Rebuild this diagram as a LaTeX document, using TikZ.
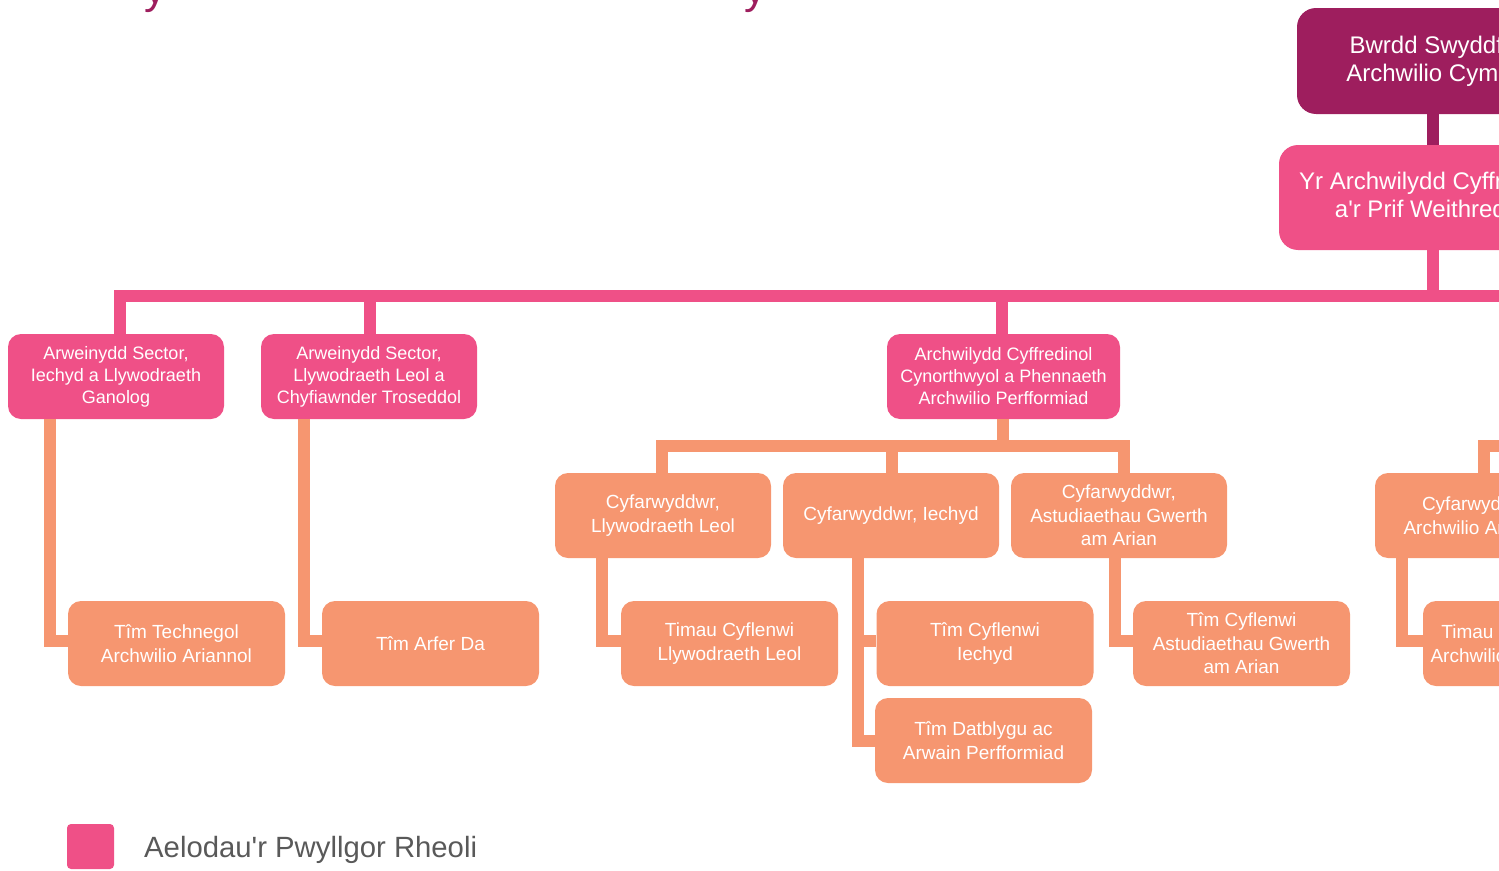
\documentclass[tikz,border=0pt]{standalone}
\usepackage{fontspec}
\setmainfont{Liberation Sans}[Ligatures=TeXOff]
\definecolor{plum}{RGB}{158,30,94}
\definecolor{rose}{RGB}{239,80,135}
\definecolor{peach}{RGB}{246,150,112}
\definecolor{greytext}{RGB}{89,89,89}
\begin{document}
\begin{tikzpicture}[x=1pt,y=-1pt,
  bigbox/.style={rounded corners=19pt, inner sep=0pt, align=center, text=white, font=\fontsize{24}{28}\selectfont, minimum height=105pt},
  pinkbox/.style={fill=rose, rounded corners=13pt, inner sep=0pt, align=center, text=white, font=\fontsize{18}{22}\selectfont, minimum width=216pt, minimum height=85pt},
  peachbox/.style={fill=peach, rounded corners=13pt, inner sep=0pt, align=center, text=white, font=\fontsize{19}{23.5}\selectfont, minimum width=217pt, minimum height=85pt},
  pinkline/.style={draw=rose, line width=12pt},
  peachline/.style={draw=peach, line width=12pt},
  plumline/.style={draw=plum, line width=12pt}]
\useasboundingbox (0,0) rectangle (1499,870);

% title fragments
\node[anchor=base, text=plum, font=\fontsize{44}{50}\selectfont, inner sep=0pt] (ty1) at (155,3) {y};
\node[anchor=base, text=plum, font=\fontsize{44}{50}\selectfont, inner sep=0pt] (ty2) at (755,3) {y};

% top
\node[bigbox, fill=plum, minimum width=272pt, minimum height=106pt] (bwrdd) at (1433,61) {Bwrdd Swyddfa\\Archwilio Cymru};
\node[bigbox, fill=rose, minimum width=308pt] (yr) at (1433,197.5) {\raisebox{3pt}{\begin{tabular}{@{}c@{}}Yr Archwilydd Cyffredinol\\a'r Prif Weithredwr\end{tabular}}};

% level 2
\node[pinkbox] (sa) at (116,376.5) {Arweinydd Sector,\\Iechyd a Llywodraeth\\Ganolog};
\node[pinkbox] (sb) at (369,376.5) {Arweinydd Sector,\\Llywodraeth Leol a\\Chyfiawnder Troseddol};
\node[pinkbox, minimum width=233pt] (ac) at (1003.5,376.5) {Archwilydd Cyffredinol\\Cynorthwyol a Phennaeth\\Archwilio Perfformiad};

% level 3
\node[peachbox, minimum width=216pt] (dl) at (663,515.5) {Cyfarwyddwr,\\Llywodraeth Leol};
\node[peachbox, minimum width=216pt] (di) at (891,515.5) {Cyfarwyddwr, Iechyd};
\node[peachbox, minimum width=216pt] (dv) at (1119,515.5) {Cyfarwyddwr,\\Astudiaethau Gwerth\\am Arian};
\node[peachbox, minimum width=208pt] (df) at (1479,515.5) {Cyfarwyddwr,\\Archwilio Ariannol};

% level 4
\node[peachbox] (tt) at (176.5,643.5) {Tîm Technegol\\Archwilio Ariannol};
\node[peachbox] (ta) at (430.5,643.5) {Tîm Arfer Da};
\node[peachbox] (tl) at (729.5,643.5) {Timau Cyflenwi\\Llywodraeth Leol};
\node[peachbox] (ti) at (985,643.5) {Tîm Cyflenwi\\Iechyd};
\node[peachbox] (tv) at (1241.5,643.5) {Tîm Cyflenwi\\Astudiaethau Gwerth\\am Arian};
\node[peachbox, minimum width=166pt] (tf) at (1506,643.5) {Timau Cyflenwi\\Archwilio Ariannol};
\node[peachbox] (td) at (983.5,740.5) {Tîm Datblygu ac\\Arwain Perfformiad};

% pink connectors
\coordinate (pbarR) at (1530,296);
\draw[plumline] (bwrdd.south) -- (yr.north);
\draw[pinkline] (yr.south) -- (yr.south |- pbarR);
\coordinate (satop) at ([xshift=4pt]sa.north);
\coordinate (sbtop) at ([xshift=1pt]sb.north);
\coordinate (actop) at ([xshift=-1.5pt]ac.north);
\draw[pinkline] (satop) |- (pbarR);
\draw[pinkline] (sbtop) -- (sbtop |- pbarR);
\draw[pinkline] (actop) -- (actop |- pbarR);

% orange connectors level 3
\coordinate (obar) at (0,446);
\coordinate (acbot) at ([xshift=-1pt]ac.south);
\coordinate (dltop) at ([xshift=-1pt]dl.north);
\coordinate (ditop) at ([xshift=1pt]di.north);
\coordinate (dvtop) at ([xshift=5pt]dv.north);
\coordinate (dftop) at ([xshift=5pt]df.north);
\coordinate (obarR) at (1530,446);
\draw[peachline] (acbot) -- (acbot |- obar);
\draw[peachline] (dltop) |- (dvtop |- obar) -- (dvtop);
\draw[peachline] (ditop) -- (ditop |- obar);
\draw[peachline] (dftop) |- (obarR);

% orange connectors level 4
\coordinate (sab) at ([xshift=-66pt]sa.south);
\coordinate (sbb) at ([xshift=-65pt]sb.south);
\coordinate (dlb) at ([xshift=-61pt]dl.south);
\coordinate (dib) at ([xshift=-33pt]di.south);
\coordinate (dvb) at ([xshift=-4pt]dv.south);
\coordinate (dfb) at ([xshift=-77pt]df.south);
\draw[peachline] (sab) |- ([yshift=2.5pt]tt.west);
\draw[peachline] (sbb) |- ([yshift=2.5pt]ta.west);
\draw[peachline] (dlb) |- ([yshift=2.5pt]tl.west);
\draw[peachline] (dib) |- ([yshift=2.5pt]ti.west);
\draw[peachline] (dib) |- (td.west);
\draw[peachline] (dvb) |- ([yshift=2.5pt]tv.west);
\draw[peachline] (dfb) |- ([yshift=3pt]tf.west);

% legend
\node[fill=rose, rounded corners=4pt, minimum width=47pt, minimum height=45pt, inner sep=0pt] (leg) at (90.5,846.5) {};
\node[anchor=west, text=greytext, font=\fontsize{29.3}{34}\selectfont, inner sep=0pt] (legtxt) at (144,850) {Aelodau'r Pwyllgor Rheoli};
\end{tikzpicture}
\end{document}
